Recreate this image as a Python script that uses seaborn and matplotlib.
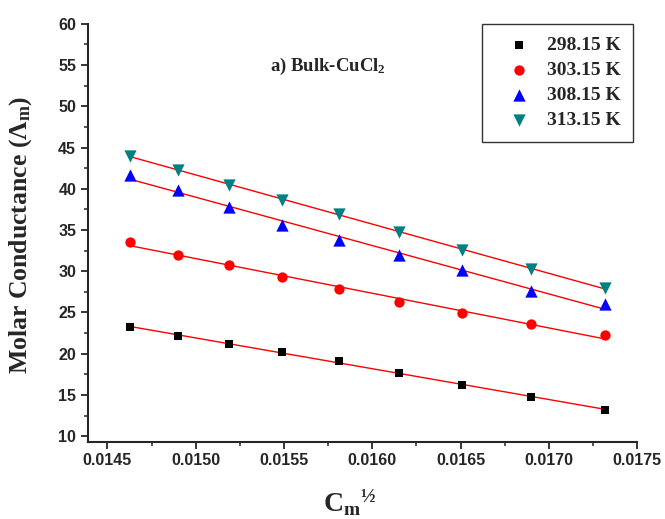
import numpy as np
import pandas as pd
import matplotlib
matplotlib.use('Agg')
import matplotlib.pyplot as plt
import matplotlib.ticker as mticker
import seaborn as sns

# =============================================================================
# Dados (Bulk-CuCl2)
# =============================================================================
raiz_conc = [0.01463, 0.01490, 0.01519, 0.01549, 0.01581, 0.01615, 0.01651, 0.01690, 0.01732]
cond_298 = [23.2, 22.2, 21.2, 20.2, 19.1, 17.6, 16.2, 14.8, 13.2]
cond_303 = [33.5, 32.0, 30.8, 29.3, 27.9, 26.3, 24.9, 23.6, 22.3]
cond_308 = [41.7, 39.8, 37.8, 35.6, 33.8, 32.0, 30.2, 27.6, 26.0]
cond_313 = [44.0, 42.3, 40.5, 38.7, 36.9, 34.7, 32.6, 30.3, 28.0]
temperaturas = ['298.15 K', '303.15 K', '308.15 K', '313.15 K']

series = dict(zip(temperaturas, [cond_298, cond_303, cond_308, cond_313]))
cores = {'298.15 K': '#000000', '303.15 K': '#ff0000', '308.15 K': '#0000ff', '313.15 K': '#008080'}
marcadores = {'298.15 K': 's', '303.15 K': 'o', '308.15 K': '^', '313.15 K': 'v'}
tamanhos = {'298.15 K': 40, '303.15 K': 55, '308.15 K': 78, '313.15 K': 78}

df = pd.concat([
    pd.DataFrame({'x': raiz_conc, 'y': vals, 'Temperatura': t})
    for t, vals in series.items()
], ignore_index=True)

# =============================================================================
# Estilo
# =============================================================================
sns.set_style('ticks')
plt.rcParams['font.family'] = ['Liberation Sans', 'DejaVu Sans']
plt.rcParams['mathtext.fontset'] = 'custom'
plt.rcParams['mathtext.rm'] = 'Liberation Serif:bold'
plt.rcParams['mathtext.bf'] = 'Liberation Serif:bold'
plt.rcParams['mathtext.it'] = 'Liberation Serif:bold'

fig, ax = plt.subplots(figsize=(6.65, 5.19), dpi=100)
fig.subplots_adjust(left=0.1323, right=0.958, bottom=0.149, top=0.954)

for t in temperaturas:
    sub = df[df['Temperatura'] == t]
    sns.regplot(data=sub, x='x', y='y', scatter=False, ci=None, truncate=True,
                color='red', line_kws={'lw': 1.0, 'zorder': 2}, ax=ax)
    sns.scatterplot(data=sub, x='x', y='y', marker=marcadores[t], color=cores[t],
                    s=tamanhos[t], linewidth=0, label=t, zorder=3, ax=ax)

ax.set_xlim(0.01439, 0.0175)
ax.set_ylim(9.33, 60)
ax.xaxis.set_major_locator(mticker.MultipleLocator(0.0005))
ax.xaxis.set_minor_locator(mticker.MultipleLocator(0.00025))
ax.xaxis.set_major_formatter(mticker.FormatStrFormatter('%.4f'))
ax.yaxis.set_major_locator(mticker.MultipleLocator(5))
ax.yaxis.set_minor_locator(mticker.MultipleLocator(2.5))
ax.set_yticks(np.arange(10, 61, 5))

sns.despine(ax=ax)
for lado in ['left', 'bottom']:
    ax.spines[lado].set_linewidth(1.5)
ax.tick_params(which='major', direction='out', length=5, width=1.3, labelsize=11.5)
ax.tick_params(which='minor', direction='out', length=3, width=1.1)
for lbl in ax.get_xticklabels() + ax.get_yticklabels():
    lbl.set_fontweight('bold')

ax.set_xlabel(r'C$_\mathrm{m}$$^{\mathrm{½}}$', fontsize=20, family='Liberation Serif',
              fontweight='bold')
ax.xaxis.set_label_coords(0.477, -0.11)
ax.set_ylabel(r'Molar Conductance ($\Lambda_\mathrm{m}$)', fontsize=18.5,
              family='Liberation Serif', fontweight='bold')
ax.yaxis.set_label_coords(-0.098, 0.495)

ax.text(0.331, 0.898, r'a) Bulk-CuCl$_\mathrm{2}$', transform=ax.transAxes,
        fontsize=13.5, family='Liberation Serif', fontweight='bold', va='center', ha='left')

leg = ax.legend(loc='upper right', bbox_to_anchor=(0.993, 1.0), borderaxespad=0,
                fancybox=False, frameon=True, edgecolor='#333333', framealpha=1,
                prop={'family': 'Liberation Serif', 'weight': 'bold', 'size': 14},
                labelspacing=0.38, handletextpad=0.1, borderpad=0.65, handlelength=2.6)
leg.get_frame().set_linewidth(1.0)

plt.savefig('out.png', dpi=100)
plt.close(fig)
